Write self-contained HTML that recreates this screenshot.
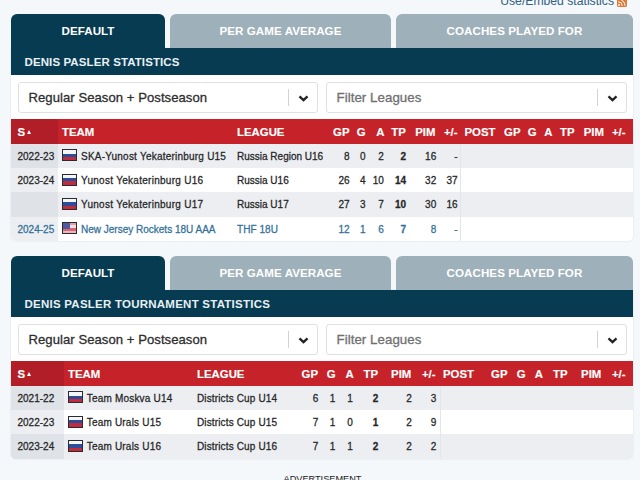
<!DOCTYPE html><html><head><meta charset="utf-8"><style>

html,body{margin:0;padding:0;}
body{width:640px;height:480px;overflow:hidden;background:#f5f8fb;position:relative;font-family:"Liberation Sans", sans-serif;}
.t{position:absolute;white-space:nowrap;}
.card{position:absolute;background:#fff;border-radius:0 0 5px 5px;box-shadow:0 0 2px rgba(0,0,0,0.13);overflow:hidden}
.tab{position:absolute;height:34.2px;line-height:34.2px;border-radius:6px 6px 0 0;color:#fff;font-weight:700;font-size:11.6px;text-align:center;letter-spacing:0.05px}
.band{position:absolute;background:#073b52;color:#e8f0f5;font-weight:700;font-size:11.5px;line-height:27px;padding-left:13.5px;padding-top:1px;box-sizing:border-box}
.sel{position:absolute;border:1px solid #dfe1e5;border-radius:3px;background:#fff}
.st{position:absolute;left:9.5px;top:1px;line-height:28px;font-size:13.1px;letter-spacing:0.05px;color:#2e2e2e;-webkit-text-stroke:0.3px currentColor}
.st.ph{color:#707070;font-size:13.3px;left:9.5px}
.sep{position:absolute;right:28px;top:6px;width:1px;height:17px;background:#cfd2d6}
.chev{position:absolute;right:8px;top:11.8px}
.hdr{position:absolute;background:#c62229}
.h{color:#fff;font-weight:700;font-size:11.4px;padding-top:0.6px;-webkit-text-stroke:0.15px currentColor}
.tri{position:absolute;width:0;height:0;border-left:2.6px solid transparent;border-right:2.6px solid transparent;border-bottom:4.2px solid #fff}
.row{position:absolute;left:11px;width:622px}
.c{font-size:10px;letter-spacing:0px;color:#262626;padding-top:1.1px;-webkit-text-stroke:0.26px currentColor}
.b{font-weight:700}
.flag{position:absolute;width:13px;height:10px;border:1px solid #2a2a30;display:flex;flex-direction:column;overflow:hidden}
.flag i{flex:1}
.flag.us{display:block;background:#f2f2f2}
.flag.us b{position:absolute;left:0;width:100%}
.flag.us u{position:absolute;left:0;top:0;width:7px;height:5.5px;background:#5058a0}

</style></head><body>
<span class="t" style="right:26px;top:-6px;font-size:12.2px;color:#32607f;line-height:14px">Use/Embed statistics</span>
<div style="position:absolute;left:617px;top:-3px;width:9.5px;height:9.5px;background:#e07a35;border-radius:1.5px;overflow:hidden"><svg width="10" height="10" viewBox="0 0 10 10" style="position:absolute;left:0;top:0"><circle cx="2" cy="8" r="1" fill="#fff"/><path d="M1.2 4.8 A4 4 0 0 1 5.2 8.8" fill="none" stroke="#fff" stroke-width="1"/><path d="M1.2 2 A6.8 6.8 0 0 1 8 8.8" fill="none" stroke="#fff" stroke-width="1"/></svg></div>
<div class="card" style="left:11px;top:48.2px;width:622px;height:192.60px"></div>
<div class="tab" style="left:11px;top:14px;width:154px;background:#073b52">DEFAULT</div>
<div class="tab" style="left:170px;top:14px;width:221px;background:#9eb0b9">PER GAME AVERAGE</div>
<div class="tab" style="left:396px;top:14px;width:237px;background:#9eb0b9">COACHES PLAYED FOR</div>
<div class="band" style="left:11px;top:48.2px;width:622px;height:27px;letter-spacing:0.1px">DENIS PASLER STATISTICS</div>
<div class="sel" style="left:18px;top:82px;width:298px;height:29px"><span class="st">Regular Season + Postseason</span><i class="sep"></i><svg class="chev" width="11" height="8" viewBox="0 0 11 8"><polyline points="1.5,1.3 5.5,5.1 9.5,1.3" fill="none" stroke="#222" stroke-width="2.3"/></svg></div>
<div class="sel" style="left:326px;top:82px;width:299px;height:29px"><span class="st ph">Filter Leagues</span><i class="sep"></i><svg class="chev" width="11" height="8" viewBox="0 0 11 8"><polyline points="1.5,1.3 5.5,5.1 9.5,1.3" fill="none" stroke="#222" stroke-width="2.3"/></svg></div>
<div class="hdr" style="left:11px;top:119.3px;width:622px;height:24.3px"></div>
<div class="hdr" style="left:11px;top:119.3px;width:47px;height:24.3px;background:#b21e27"></div>
<span class="t h" style="left:17.5px;top:119.3px;height:24.3px;line-height:24.3px;">S</span>
<i class="tri" style="left:27px;top:129.9px"></i>
<span class="t h" style="left:62px;top:119.3px;height:24.3px;line-height:24.3px;">TEAM</span>
<span class="t h" style="left:237px;top:119.3px;height:24.3px;line-height:24.3px;">LEAGUE</span>
<span class="t h" style="right:290.5px;top:119.3px;height:24.3px;line-height:24.3px;">GP</span>
<span class="t h" style="right:274.5px;top:119.3px;height:24.3px;line-height:24.3px;">G</span>
<span class="t h" style="right:255.5px;top:119.3px;height:24.3px;line-height:24.3px;">A</span>
<span class="t h" style="right:234.2px;top:119.3px;height:24.3px;line-height:24.3px;">TP</span>
<span class="t h" style="right:204.5px;top:119.3px;height:24.3px;line-height:24.3px;">PIM</span>
<span class="t h" style="right:182.5px;top:119.3px;height:24.3px;line-height:24.3px;">+/-</span>
<span class="t h" style="left:464.5px;top:119.3px;height:24.3px;line-height:24.3px;">POST</span>
<span class="t h" style="right:119.5px;top:119.3px;height:24.3px;line-height:24.3px;">GP</span>
<span class="t h" style="right:103.5px;top:119.3px;height:24.3px;line-height:24.3px;">G</span>
<span class="t h" style="right:87.5px;top:119.3px;height:24.3px;line-height:24.3px;">A</span>
<span class="t h" style="right:65.5px;top:119.3px;height:24.3px;line-height:24.3px;">TP</span>
<span class="t h" style="right:36px;top:119.3px;height:24.3px;line-height:24.3px;">PIM</span>
<span class="t h" style="right:14.5px;top:119.3px;height:24.3px;line-height:24.3px;">+/-</span>
<div class="row" style="top:143.60px;height:24.60px;background:#eceef2;"></div>
<div class="row" style="top:143.60px;height:24.60px;width:47px;background:#dfe2e6;"></div>
<span class="t c" style="left:17.5px;top:143.6px;height:24.3px;line-height:24.3px;">2022-23</span>
<div class="flag" style="left:62px;top:149.29999999999998px"><i style="background:#f4f6fa"></i><i style="background:#2d4c9c"></i><i style="background:#c02c3c"></i></div>
<span class="t c" style="left:81px;top:143.6px;height:24.3px;line-height:24.3px;letter-spacing:0.22px;">SKA-Yunost Yekaterinburg U15</span>
<span class="t c" style="left:237px;top:143.6px;height:24.3px;line-height:24.3px;letter-spacing:0.0px;">Russia Region U16</span>
<span class="t c" style="right:290.5px;top:143.6px;height:24.3px;line-height:24.3px;">8</span>
<span class="t c" style="right:274.5px;top:143.6px;height:24.3px;line-height:24.3px;">0</span>
<span class="t c" style="right:256.2px;top:143.6px;height:24.3px;line-height:24.3px;">2</span>
<span class="t c b" style="right:234px;top:143.6px;height:24.3px;line-height:24.3px;">2</span>
<span class="t c" style="right:203.8px;top:143.6px;height:24.3px;line-height:24.3px;">16</span>
<span class="t c" style="right:182.5px;top:143.6px;height:24.3px;line-height:24.3px;">-</span>
<div class="row" style="top:167.90px;height:24.60px;background:#ffffff;"></div>
<div class="row" style="top:167.90px;height:24.60px;width:47px;background:#eceef1;"></div>
<span class="t c" style="left:17.5px;top:167.9px;height:24.3px;line-height:24.3px;">2023-24</span>
<div class="flag" style="left:62px;top:173.6px"><i style="background:#f4f6fa"></i><i style="background:#2d4c9c"></i><i style="background:#c02c3c"></i></div>
<span class="t c" style="left:81px;top:167.9px;height:24.3px;line-height:24.3px;letter-spacing:0.28px;">Yunost Yekaterinburg U16</span>
<span class="t c" style="left:237px;top:167.9px;height:24.3px;line-height:24.3px;letter-spacing:0.0px;">Russia U16</span>
<span class="t c" style="right:290.5px;top:167.9px;height:24.3px;line-height:24.3px;">26</span>
<span class="t c" style="right:274.5px;top:167.9px;height:24.3px;line-height:24.3px;">4</span>
<span class="t c" style="right:256.2px;top:167.9px;height:24.3px;line-height:24.3px;">10</span>
<span class="t c b" style="right:234px;top:167.9px;height:24.3px;line-height:24.3px;">14</span>
<span class="t c" style="right:203.8px;top:167.9px;height:24.3px;line-height:24.3px;">32</span>
<span class="t c" style="right:182.5px;top:167.9px;height:24.3px;line-height:24.3px;">37</span>
<div class="row" style="top:192.20px;height:24.60px;background:#eceef2;"></div>
<div class="row" style="top:192.20px;height:24.60px;width:47px;background:#dfe2e6;"></div>
<div class="flag" style="left:62px;top:197.89999999999998px"><i style="background:#f4f6fa"></i><i style="background:#2d4c9c"></i><i style="background:#c02c3c"></i></div>
<span class="t c" style="left:81px;top:192.2px;height:24.3px;line-height:24.3px;letter-spacing:0.28px;">Yunost Yekaterinburg U17</span>
<span class="t c" style="left:237px;top:192.2px;height:24.3px;line-height:24.3px;letter-spacing:0.0px;">Russia U17</span>
<span class="t c" style="right:290.5px;top:192.2px;height:24.3px;line-height:24.3px;">27</span>
<span class="t c" style="right:274.5px;top:192.2px;height:24.3px;line-height:24.3px;">3</span>
<span class="t c" style="right:256.2px;top:192.2px;height:24.3px;line-height:24.3px;">7</span>
<span class="t c b" style="right:234px;top:192.2px;height:24.3px;line-height:24.3px;">10</span>
<span class="t c" style="right:203.8px;top:192.2px;height:24.3px;line-height:24.3px;">30</span>
<span class="t c" style="right:182.5px;top:192.2px;height:24.3px;line-height:24.3px;">16</span>
<div class="row" style="top:216.50px;height:24.30px;background:#ffffff;border-radius:0 0 5px 5px;"></div>
<div class="row" style="top:216.50px;height:24.30px;width:47px;background:#eceef1;border-radius:0 0 0 5px;"></div>
<span class="t c" style="left:17.5px;top:216.5px;height:24.3px;line-height:24.3px;color:#33719a;">2024-25</span>
<div class="flag us" style="left:62px;top:222.2px"><b style="top:0;height:2px;background:#e0a0aa"></b><b style="top:2px;height:3px;background:#f0dde0"></b><b style="top:5px;height:3px;background:#dc6472"></b><b style="top:8px;height:2px;background:#e8b8c0"></b><u></u></div>
<span class="t c" style="left:81px;top:216.5px;height:24.3px;line-height:24.3px;color:#33719a;letter-spacing:0.0px;">New Jersey Rockets 18U AAA</span>
<span class="t c" style="left:237px;top:216.5px;height:24.3px;line-height:24.3px;color:#33719a;letter-spacing:0.05px;">THF 18U</span>
<span class="t c" style="right:290.5px;top:216.5px;height:24.3px;line-height:24.3px;color:#33719a;">12</span>
<span class="t c" style="right:274.5px;top:216.5px;height:24.3px;line-height:24.3px;color:#33719a;">1</span>
<span class="t c" style="right:256.2px;top:216.5px;height:24.3px;line-height:24.3px;color:#33719a;">6</span>
<span class="t c b" style="right:234px;top:216.5px;height:24.3px;line-height:24.3px;color:#33719a;">7</span>
<span class="t c" style="right:203.8px;top:216.5px;height:24.3px;line-height:24.3px;color:#33719a;">8</span>
<span class="t c" style="right:182.5px;top:216.5px;height:24.3px;line-height:24.3px;color:#33719a;">-</span>
<div style="position:absolute;left:460px;top:143.6px;width:1px;height:97.2px;background:#e3e5e8"></div>
<div class="card" style="left:11px;top:290.2px;width:622px;height:168.40px"></div>
<div class="tab" style="left:11px;top:256px;width:154px;background:#073b52">DEFAULT</div>
<div class="tab" style="left:170px;top:256px;width:221px;background:#9eb0b9">PER GAME AVERAGE</div>
<div class="tab" style="left:396px;top:256px;width:237px;background:#9eb0b9">COACHES PLAYED FOR</div>
<div class="band" style="left:11px;top:290.2px;width:622px;height:27px;letter-spacing:0.24px">DENIS PASLER TOURNAMENT STATISTICS</div>
<div class="sel" style="left:18px;top:324px;width:298px;height:29px"><span class="st">Regular Season + Postseason</span><i class="sep"></i><svg class="chev" width="11" height="8" viewBox="0 0 11 8"><polyline points="1.5,1.3 5.5,5.1 9.5,1.3" fill="none" stroke="#222" stroke-width="2.3"/></svg></div>
<div class="sel" style="left:326px;top:324px;width:299px;height:29px"><span class="st ph">Filter Leagues</span><i class="sep"></i><svg class="chev" width="11" height="8" viewBox="0 0 11 8"><polyline points="1.5,1.3 5.5,5.1 9.5,1.3" fill="none" stroke="#222" stroke-width="2.3"/></svg></div>
<div class="hdr" style="left:11px;top:361.3px;width:622px;height:24.3px"></div>
<div class="hdr" style="left:11px;top:361.3px;width:53px;height:24.3px;background:#b21e27"></div>
<span class="t h" style="left:17.5px;top:361.3px;height:24.3px;line-height:24.3px;">S</span>
<i class="tri" style="left:27px;top:371.90000000000003px"></i>
<span class="t h" style="left:68px;top:361.3px;height:24.3px;line-height:24.3px;">TEAM</span>
<span class="t h" style="left:197px;top:361.3px;height:24.3px;line-height:24.3px;">LEAGUE</span>
<span class="t h" style="right:322px;top:361.3px;height:24.3px;line-height:24.3px;">GP</span>
<span class="t h" style="right:304.5px;top:361.3px;height:24.3px;line-height:24.3px;">G</span>
<span class="t h" style="right:286.3px;top:361.3px;height:24.3px;line-height:24.3px;">A</span>
<span class="t h" style="right:262px;top:361.3px;height:24.3px;line-height:24.3px;">TP</span>
<span class="t h" style="right:228.7px;top:361.3px;height:24.3px;line-height:24.3px;">PIM</span>
<span class="t h" style="right:204.5px;top:361.3px;height:24.3px;line-height:24.3px;">+/-</span>
<span class="t h" style="left:443px;top:361.3px;height:24.3px;line-height:24.3px;">POST</span>
<span class="t h" style="right:132.5px;top:361.3px;height:24.3px;line-height:24.3px;">GP</span>
<span class="t h" style="right:114.5px;top:361.3px;height:24.3px;line-height:24.3px;">G</span>
<span class="t h" style="right:97px;top:361.3px;height:24.3px;line-height:24.3px;">A</span>
<span class="t h" style="right:72.5px;top:361.3px;height:24.3px;line-height:24.3px;">TP</span>
<span class="t h" style="right:38.700000000000045px;top:361.3px;height:24.3px;line-height:24.3px;">PIM</span>
<span class="t h" style="right:14.5px;top:361.3px;height:24.3px;line-height:24.3px;">+/-</span>
<div class="row" style="top:385.60px;height:24.60px;background:#eceef2;"></div>
<div class="row" style="top:385.60px;height:24.60px;width:53px;background:#dfe2e6;"></div>
<span class="t c" style="left:17.5px;top:385.6px;height:24.3px;line-height:24.3px;">2021-22</span>
<div class="flag" style="left:68px;top:391.3px"><i style="background:#f4f6fa"></i><i style="background:#2d4c9c"></i><i style="background:#c02c3c"></i></div>
<span class="t c" style="left:86.7px;top:385.6px;height:24.3px;line-height:24.3px;letter-spacing:0.2px;">Team Moskva U14</span>
<span class="t c" style="left:197px;top:385.6px;height:24.3px;line-height:24.3px;letter-spacing:0.14px;">Districts Cup U14</span>
<span class="t c" style="right:321.7px;top:385.6px;height:24.3px;line-height:24.3px;">6</span>
<span class="t c" style="right:304.7px;top:385.6px;height:24.3px;line-height:24.3px;">1</span>
<span class="t c" style="right:287.2px;top:385.6px;height:24.3px;line-height:24.3px;">1</span>
<span class="t c b" style="right:261.7px;top:385.6px;height:24.3px;line-height:24.3px;">2</span>
<span class="t c" style="right:228.3px;top:385.6px;height:24.3px;line-height:24.3px;">2</span>
<span class="t c" style="right:203.60000000000002px;top:385.6px;height:24.3px;line-height:24.3px;">3</span>
<div class="row" style="top:409.90px;height:24.60px;background:#ffffff;"></div>
<div class="row" style="top:409.90px;height:24.60px;width:53px;background:#eceef1;"></div>
<span class="t c" style="left:17.5px;top:409.90000000000003px;height:24.3px;line-height:24.3px;">2022-23</span>
<div class="flag" style="left:68px;top:415.6px"><i style="background:#f4f6fa"></i><i style="background:#2d4c9c"></i><i style="background:#c02c3c"></i></div>
<span class="t c" style="left:86.7px;top:409.90000000000003px;height:24.3px;line-height:24.3px;letter-spacing:0.2px;">Team Urals U15</span>
<span class="t c" style="left:197px;top:409.90000000000003px;height:24.3px;line-height:24.3px;letter-spacing:0.14px;">Districts Cup U15</span>
<span class="t c" style="right:321.7px;top:409.90000000000003px;height:24.3px;line-height:24.3px;">7</span>
<span class="t c" style="right:304.7px;top:409.90000000000003px;height:24.3px;line-height:24.3px;">1</span>
<span class="t c" style="right:287.2px;top:409.90000000000003px;height:24.3px;line-height:24.3px;">0</span>
<span class="t c b" style="right:261.7px;top:409.90000000000003px;height:24.3px;line-height:24.3px;">1</span>
<span class="t c" style="right:228.3px;top:409.90000000000003px;height:24.3px;line-height:24.3px;">2</span>
<span class="t c" style="right:203.60000000000002px;top:409.90000000000003px;height:24.3px;line-height:24.3px;">9</span>
<div class="row" style="top:434.20px;height:24.40px;background:#eceef2;border-radius:0 0 5px 5px;"></div>
<div class="row" style="top:434.20px;height:24.40px;width:53px;background:#dfe2e6;border-radius:0 0 0 5px;"></div>
<span class="t c" style="left:17.5px;top:434.20000000000005px;height:24.3px;line-height:24.3px;">2023-24</span>
<div class="flag" style="left:68px;top:439.90000000000003px"><i style="background:#f4f6fa"></i><i style="background:#2d4c9c"></i><i style="background:#c02c3c"></i></div>
<span class="t c" style="left:86.7px;top:434.20000000000005px;height:24.3px;line-height:24.3px;letter-spacing:0.2px;">Team Urals U16</span>
<span class="t c" style="left:197px;top:434.20000000000005px;height:24.3px;line-height:24.3px;letter-spacing:0.14px;">Districts Cup U16</span>
<span class="t c" style="right:321.7px;top:434.20000000000005px;height:24.3px;line-height:24.3px;">7</span>
<span class="t c" style="right:304.7px;top:434.20000000000005px;height:24.3px;line-height:24.3px;">1</span>
<span class="t c" style="right:287.2px;top:434.20000000000005px;height:24.3px;line-height:24.3px;">1</span>
<span class="t c b" style="right:261.7px;top:434.20000000000005px;height:24.3px;line-height:24.3px;">2</span>
<span class="t c" style="right:228.3px;top:434.20000000000005px;height:24.3px;line-height:24.3px;">2</span>
<span class="t c" style="right:203.60000000000002px;top:434.20000000000005px;height:24.3px;line-height:24.3px;">2</span>
<div style="position:absolute;left:440px;top:385.6px;width:1px;height:72.9px;background:#e3e5e8"></div>
<span class="t" style="left:283.5px;top:473px;font-size:9.2px;color:#222;line-height:12px">ADVERTISEMENT</span>
</body></html>
